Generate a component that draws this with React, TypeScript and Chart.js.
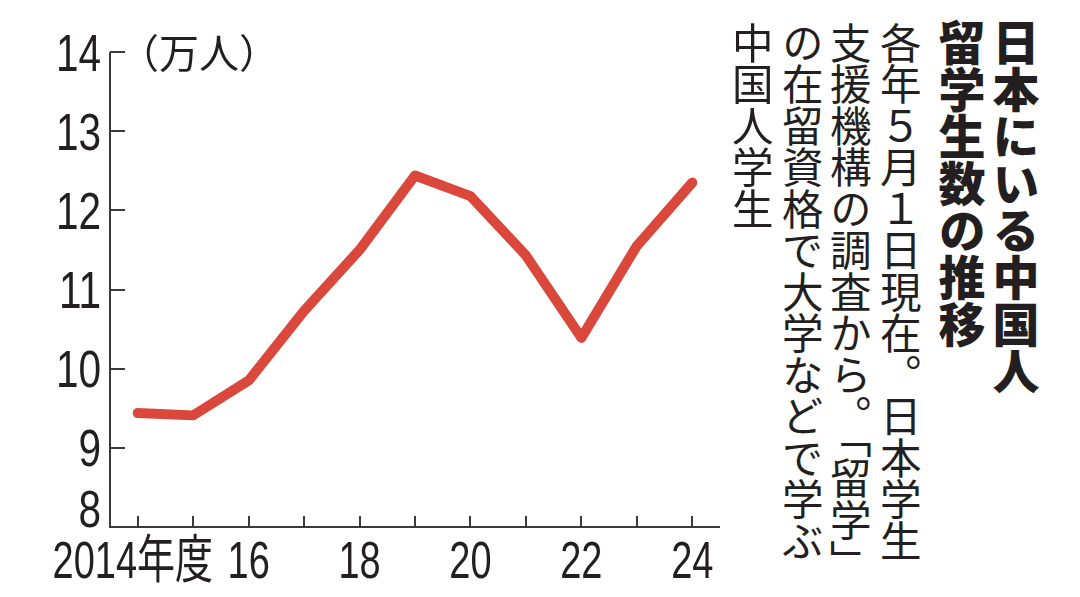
import { useEffect, useRef } from "react";
import { Chart, registerables } from "chart.js";

Chart.register(...registerables);

// ---- data ----
const years = ["2014", "2015", "2016", "2017", "2018", "2019", "2020", "2021", "2022", "2023", "2024"];
const xTickLabels = ["2014年度", "", "16", "", "18", "", "20", "", "22", "", "24"];
const students = [9.44, 9.41, 9.85, 10.73, 11.5, 12.44, 12.18, 11.43, 10.39, 11.55, 12.35];
const yTicks = [8, 9, 10, 11, 12, 13, 14];
const unitLabel = "（万人）";
const titleColumns = ["日本にいる中国人", "留学生数の推移"];
const noteColumns = [
  "各年５月１日現在。日本学生",
  "支援機構の調査から。「留学」",
  "の在留資格で大学などで学ぶ",
  "中国人学生",
];

// ---- styles ----
const LINE_COLOR = "#d9483b";
const AXIS_COLOR = "#3a3a3a";
const TEXT_COLOR = "#231f20";
const NUM_FONT = "'Liberation Sans', 'Noto Sans CJK JP', sans-serif";
const CJK_FONT = "'Noto Sans CJK JP', 'Noto Sans CJK SC', sans-serif";
const NUM_SIZE = 52;
const SQUEEZE_X = 0.73;
const SQUEEZE_Y = 0.78;

const axisPlugin = {
  id: "customAxes",
  afterDraw(chart: any) {
    const { ctx, chartArea, scales } = chart;
    const xs = scales.x;
    const ys = scales.y;
    const { left, right, top, bottom } = chartArea;
    ctx.save();
    ctx.strokeStyle = AXIS_COLOR;
    ctx.lineWidth = 2;
    ctx.lineCap = "butt";
    ctx.beginPath();
    ctx.moveTo(left, top);
    ctx.lineTo(left, bottom);
    ctx.lineTo(right, bottom);
    yTicks.forEach((v) => {
      const py = Math.round(ys.getPixelForValue(v));
      ctx.moveTo(left, py);
      ctx.lineTo(left + 15, py);
    });
    years.forEach((_, i) => {
      const px = Math.round(xs.getPixelForValue(i));
      ctx.moveTo(px, bottom);
      ctx.lineTo(px, bottom - 11);
    });
    ctx.stroke();

    ctx.fillStyle = TEXT_COLOR;
    ctx.font = `${NUM_SIZE}px ${NUM_FONT}`;
    ctx.textBaseline = "alphabetic";
    // y labels
    ctx.textAlign = "right";
    yTicks.forEach((v, i) => {
      const py = ys.getPixelForValue(v);
      const base = i === 0 ? py : py + NUM_SIZE * 0.358;
      ctx.save();
      ctx.translate(left - 9, base);
      ctx.scale(SQUEEZE_Y, 1);
      ctx.fillText(String(v), 0, 0);
      ctx.restore();
    });
    // x labels
    ctx.textAlign = "center";
    xTickLabels.forEach((lab, i) => {
      if (!lab) return;
      const px = xs.getPixelForValue(i);
      ctx.save();
      ctx.translate(lab.length > 2 ? px - 5 : px, bottom + 51);
      ctx.scale(SQUEEZE_X, 1);
      ctx.fillText(lab, 0, 0);
      ctx.restore();
    });
    // unit label
    ctx.font = `40px ${CJK_FONT}`;
    ctx.textAlign = "left";
    ctx.textBaseline = "middle";
    ctx.fillText(unitLabel, 119, ys.getPixelForValue(14) + 1);
    ctx.restore();
  },
};

function LineChart() {
  const ref = useRef<HTMLCanvasElement | null>(null);
  useEffect(() => {
    if (!ref.current) return;
    const chart = new Chart(ref.current, {
      type: "line",
      data: {
        labels: years,
        datasets: [
          {
            data: students,
            borderColor: LINE_COLOR,
            borderWidth: 10,
            borderCapStyle: "round",
            borderJoinStyle: "round",
            pointRadius: 0,
            tension: 0,
            fill: false,
          },
        ],
      },
      options: {
        animation: false,
        responsive: false,
        events: [],
        layout: { padding: { top: 52, right: 20, bottom: 0, left: 0 } },
        plugins: { legend: { display: false }, tooltip: { enabled: false } },
        scales: {
          x: {
            type: "category",
            offset: true,
            grid: { display: false },
            border: { display: false },
            ticks: { display: false },
            afterFit: (s: any) => {
              s.height = 70;
            },
          },
          y: {
            type: "linear",
            min: 8,
            max: 14,
            grid: { display: false },
            border: { display: false },
            ticks: { display: false, stepSize: 1 },
            afterFit: (s: any) => {
              s.width = 110;
            },
          },
        },
      },
      plugins: [axisPlugin],
    });
    return () => chart.destroy();
  }, []);
  return <canvas ref={ref} width={740} height={597} style={{ display: "block" }} />;
}

const colBase: any = {
  position: "absolute",
  writingMode: "vertical-rl",
  whiteSpace: "nowrap",
  color: TEXT_COLOR,
  fontFamily: CJK_FONT,
  margin: 0,
  padding: 0,
};

export default function App() {
  const titleX = [1016, 962];
  const noteX = [900, 850, 802, 752];
  const tSize = 47;
  const nSize = 41.5;
  return (
    <div
      lang="ja"
      style={{ position: "absolute", left: 0, top: 0, width: 1080, height: 597, background: "#fff", overflow: "hidden" }}
    >
      <div style={{ position: "absolute", left: 0, top: 0 }}>
        <LineChart />
      </div>
      {titleColumns.map((t, i) => (
        <div
          key={"t" + i}
          style={{
            ...colBase,
            left: titleX[i] - tSize / 2,
            top: 19,
            fontSize: tSize,
            lineHeight: `${tSize}px`,
            fontWeight: 900,
          }}
        >
          {t}
        </div>
      ))}
      {noteColumns.map((t, i) => (
        <div
          key={"n" + i}
          style={{
            ...colBase,
            left: noteX[i] - nSize / 2,
            top: 22,
            fontSize: nSize,
            lineHeight: `${nSize}px`,
            fontWeight: 400,
          }}
        >
          {t}
        </div>
      ))}
    </div>
  );
}
